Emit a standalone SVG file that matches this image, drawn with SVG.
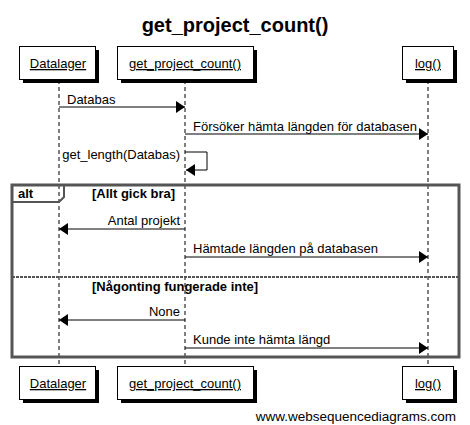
<svg xmlns="http://www.w3.org/2000/svg" width="470" height="425" viewBox="0 0 470 425">
<defs>
<style>
text{font-family:"Liberation Sans",Arial,sans-serif;fill:#000}
.t{font-size:13px}
.p{font-size:13px;text-decoration:underline;text-anchor:middle}
.b{font-size:13px;font-weight:bold}
.box{fill:#fff;stroke:#000;stroke-width:1}
.sh{fill:#000}
.life{stroke:#000;stroke-width:1;stroke-dasharray:4,3;fill:none}
.msg{stroke:#000;stroke-width:1;fill:none}
.frame{fill:none;stroke:#555;stroke-width:3}
</style>
<marker id="ah" markerWidth="10" markerHeight="12" refX="9" refY="6" orient="auto" markerUnits="userSpaceOnUse">
<path d="M0,0 L9,6 L0,12 Z" fill="#000"/>
</marker>
</defs>
<rect width="470" height="425" fill="#fff"/>
<text x="235" y="32" style="font-size:20px;font-weight:bold" text-anchor="middle">get_project_count()</text>

<g id="lifelines">
<line class="life" x1="59" y1="80" x2="59" y2="367"/>
<line class="life" x1="185" y1="80" x2="185" y2="367"/>
<line class="life" x1="428" y1="80" x2="428" y2="367"/>
</g>

<g id="Datalager-top">
<rect class="sh" x="23" y="50" width="76" height="33"/>
<rect class="box" x="19.5" y="46.5" width="76" height="33"/>
<text class="p" x="58" y="68">Datalager</text>
</g>
<g id="gpc-top">
<rect class="sh" x="121" y="50" width="136" height="33"/>
<rect class="box" x="117.5" y="46.5" width="136" height="33"/>
<text class="p" x="185" y="68">get_project_count()</text>
</g>
<g id="log-top">
<rect class="sh" x="406" y="50" width="51" height="33"/>
<rect class="box" x="402.5" y="46.5" width="51" height="33"/>
<text class="p" x="428" y="68">log()</text>
</g>

<g id="connectors">
<line class="msg" x1="59" y1="107" x2="185" y2="107" marker-end="url(#ah)"/>
<text class="t" x="67" y="104">Databas</text>
<line class="msg" x1="185" y1="134" x2="428" y2="134" marker-end="url(#ah)"/>
<text class="t" x="193" y="131">Försöker hämta längden för databasen</text>
<path class="msg" d="M185,152 H207 V170 H186" marker-end="url(#ah)"/>
<text class="t" x="180" y="159" text-anchor="end">get_length(Databas)</text>
<line class="msg" x1="185" y1="229" x2="59" y2="229" marker-end="url(#ah)"/>
<text class="t" x="180" y="225" text-anchor="end">Antal projekt</text>
<line class="msg" x1="185" y1="257" x2="428" y2="257" marker-end="url(#ah)"/>
<text class="t" x="193" y="253">Hämtade längden på databasen</text>
<line class="msg" x1="185" y1="320" x2="59" y2="320" marker-end="url(#ah)"/>
<text class="t" x="180" y="316" text-anchor="end">None</text>
<line class="msg" x1="185" y1="348" x2="428" y2="348" marker-end="url(#ah)"/>
<text class="t" x="193" y="344">Kunde inte hämta längd</text>
</g>

<g id="alt">
<rect class="frame" x="12" y="185" width="447" height="172"/>
<path d="M12,202 H59 L64,197 V185" fill="none" stroke="#555" stroke-width="2"/>
<text class="b" x="18" y="198">alt</text>
<text class="b" x="92" y="198">[Allt gick bra]</text>
<line x1="12" y1="277" x2="459" y2="277" stroke="#555" stroke-width="2" stroke-dasharray="3,1"/>
<text class="b" x="92" y="291">[Någonting fungerade inte]</text>
</g>

<g id="Datalager-bottom">
<rect class="sh" x="23" y="370" width="76" height="33"/>
<rect class="box" x="19.5" y="366.5" width="76" height="33"/>
<text class="p" x="58" y="388">Datalager</text>
</g>
<g id="gpc-bottom">
<rect class="sh" x="121" y="370" width="136" height="33"/>
<rect class="box" x="117.5" y="366.5" width="136" height="33"/>
<text class="p" x="185" y="388">get_project_count()</text>
</g>
<g id="log-bottom">
<rect class="sh" x="406" y="370" width="51" height="33"/>
<rect class="box" x="402.5" y="366.5" width="51" height="33"/>
<text class="p" x="428" y="388">log()</text>
</g>

<text x="456" y="421" style="font-size:13.5px" text-anchor="end">www.websequencediagrams.com</text>
</svg>
